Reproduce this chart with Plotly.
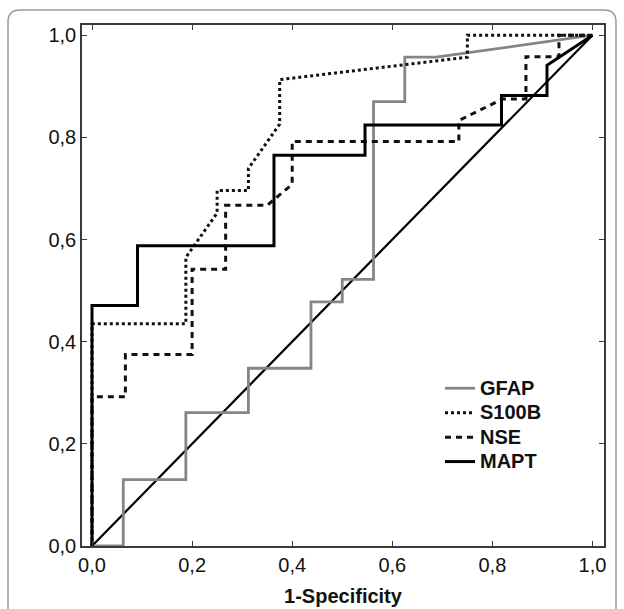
import plotly.graph_objects as go

# ---- data ----
gfap_x = [0, 0.0625, 0.0625, 0.1875, 0.1875, 0.3125, 0.3125, 0.4375, 0.4375, 0.5, 0.5,
          0.5625, 0.5625, 0.625, 0.625, 0.6875, 1.0]
gfap_y = [0, 0, 0.130, 0.130, 0.261, 0.261, 0.348, 0.348, 0.478, 0.478, 0.522,
          0.522, 0.870, 0.870, 0.957, 0.957, 1.0]

s100b_x = [0, 0, 0.1875, 0.1875, 0.25, 0.25, 0.3125, 0.3125, 0.375, 0.375, 0.75, 0.75, 1.0]
s100b_y = [0, 0.435, 0.435, 0.565, 0.652, 0.696, 0.696, 0.739, 0.826, 0.913, 0.957, 1.0, 1.0]

nse_x = [0, 0, 0.0667, 0.0667, 0.2, 0.2, 0.267, 0.267, 0.35, 0.4, 0.4, 0.733, 0.733,
         0.82, 0.867, 0.867, 0.933, 0.933, 1.0]
nse_y = [0, 0.292, 0.292, 0.375, 0.375, 0.542, 0.542, 0.667, 0.667, 0.708, 0.792, 0.792, 0.833,
         0.875, 0.875, 0.958, 0.958, 1.0, 1.0]

mapt_x = [0, 0, 0.0909, 0.0909, 0.3636, 0.3636, 0.5455, 0.5455, 0.8182, 0.8182, 0.9091, 0.9091, 1.0]
mapt_y = [0, 0.471, 0.471, 0.588, 0.588, 0.765, 0.765, 0.824, 0.824, 0.882, 0.882, 0.941, 1.0]

ref_x = [0, 1]
ref_y = [0, 1]

tick_vals = [0.0, 0.2, 0.4, 0.6, 0.8, 1.0]
series_names = ["GFAP", "S100B", "NSE", "MAPT"]
x_title = "1-Specificity"

# ---- figure ----
W, H = 624, 609
ML, MR, MT, MB = 82, 20, 25, 63
FONT = "Liberation Sans, Arial, sans-serif"


def legend_label(s):
    return '<span style="font-size:20px">' + s + "</span>"


fig = go.Figure()
fig.add_trace(go.Scatter(x=ref_x, y=ref_y, mode="lines", showlegend=False,
                         line=dict(color="#000000", width=2.2), hoverinfo="skip"))
fig.add_trace(go.Scatter(x=gfap_x, y=gfap_y, mode="lines", name=legend_label(series_names[0]),
                         line=dict(color="#858585", width=2.8)))
fig.add_trace(go.Scatter(x=s100b_x, y=s100b_y, mode="lines", name=legend_label(series_names[1]),
                         line=dict(color="#111111", width=3, dash="3px,3px")))
fig.add_trace(go.Scatter(x=nse_x, y=nse_y, mode="lines", name=legend_label(series_names[2]),
                         line=dict(color="#111111", width=3, dash="6px,5px")))
fig.add_trace(go.Scatter(x=mapt_x, y=mapt_y, mode="lines", name=legend_label(series_names[3]),
                         line=dict(color="#000000", width=3)))

axis_common = dict(
    showgrid=False, zeroline=False, showline=True, linecolor="#3a3a3a", linewidth=1.5,
    mirror="ticks", ticks="inside", ticklen=5, tickwidth=1.2, tickcolor="#3a3a3a",
    tickvals=tick_vals, tickformat=".1f", automargin=False,
    tickfont=dict(family=FONT, size=20, color="#111111"),
)
fig.update_xaxes(range=[-0.02, 1.023], title=dict(
    text="<b>" + x_title + "</b>", standoff=14,
    font=dict(family=FONT, size=20, color="#111111")),
    **axis_common)
fig.update_yaxes(range=[0, 1.02], **axis_common)


def px2paper(px, py):
    return (px - ML) / (W - ML - MR), (H - MB - py) / (H - MT - MB)


# rounded outer frame
x0, y0 = px2paper(8, 10)
x1, y1 = px2paper(616, 640)
rx, ry = 12 / (W - ML - MR), 12 / (H - MT - MB)
path = (f"M {x0},{y1} L {x0},{y0 - ry} Q {x0},{y0} {x0 + rx},{y0} "
        f"L {x1 - rx},{y0} Q {x1},{y0} {x1},{y0 - ry} L {x1},{y1}")
fig.add_shape(type="path", path=path, xref="paper", yref="paper",
              line=dict(color="#9a9a9a", width=1.5), layer="below")

lx, ly = px2paper(440, 371)
fig.update_layout(
    width=W, height=H,
    margin=dict(l=ML, r=MR, t=MT, b=MB),
    paper_bgcolor="white", plot_bgcolor="white",
    separators=", ",
    showlegend=True,
    legend=dict(x=lx, y=ly, xanchor="left", yanchor="top",
                bgcolor="rgba(0,0,0,0)", tracegroupgap=0, itemwidth=30,
                font=dict(family=FONT, size=16.5, color="#111111", weight="bold")),
)

fig.write_html("out.html")
